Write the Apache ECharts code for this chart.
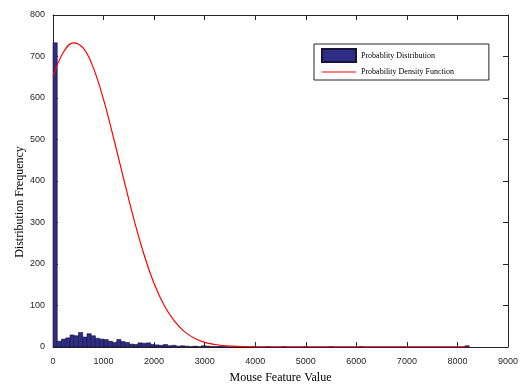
<!DOCTYPE html>
<html>
<head>
<meta charset="utf-8">
<script src="https://cdn.jsdelivr.net/npm/echarts@6/dist/echarts.min.js"></script>
<style>
  html, body { margin: 0; padding: 0; background: #fff; }
  #chart { width: 521px; height: 389px; }
</style>
</head>
<body>
<div id="chart"></div>
<script>
// histogram: bin width and counts
const binWidth = 84;
const binCounts = [
  733, 14, 19, 22, 29, 27, 35, 24, 32, 27,
  21, 19, 18, 14, 11, 18, 13, 11, 7, 6,
  10, 9, 10, 6, 5, 4, 6, 3, 4, 2,
  3, 2, 1, 2, 1, 3, 2, 1, 1, 2,
  1, 0, 1, 0, 1, 0, 0, 1, 0, 0,
  1, 0, 0, 0, 1, 0, 0, 0, 0, 1,
  0, 0, 0, 0, 0, 1, 0, 0, 0, 0,
  0, 0, 1, 0, 0, 0, 0, 0, 0, 0,
  0, 0, 0, 0, 0, 0, 0, 0, 0, 0,
  0, 0, 0, 0, 0, 0, 0, 3
];

// fitted density curve
const pdfX = [0, 200, 400, 600, 800, 1000, 1200, 1400, 1600, 1800, 2000, 2200, 2400, 2600, 2800, 3000, 3200, 3500, 4000, 5000, 6000, 7000, 8200];
const pdfY = [652, 709, 733, 720, 672, 596, 503, 404, 308, 223, 153, 100, 63, 37, 21, 11, 6, 2, 0, 0, 0, 0, 0];

const xTicks = [0, 1000, 2000, 3000, 4000, 5000, 6000, 7000, 8000, 9000];
const yTicks = [0, 100, 200, 300, 400, 500, 600, 700, 800];

const histData = binCounts.map((c, i) => [i * binWidth, (i + 1) * binWidth, c]);
const pdfData = pdfX.map((x, i) => [x, pdfY[i]]);

const axisColor = '#262626';
const tickFont = { fontFamily: 'Liberation Sans', fontSize: 9, color: '#262626' };
const nameFont = { fontFamily: 'Liberation Serif', fontSize: 12, color: '#000' };

const chart = echarts.init(document.getElementById('chart'));

chart.setOption({
  animation: false,
  backgroundColor: '#fff',
  grid: { left: 53, right: 6, top: 15, bottom: 40 },
  legend: {
    orient: 'vertical',
    left: 314,
    top: 44,
    itemWidth: 34,
    itemHeight: 13,
    itemGap: 5,
    padding: [4, 35, 4, 7],
    borderColor: '#262626',
    borderWidth: 1,
    backgroundColor: '#fff',
    textStyle: { fontFamily: 'Liberation Serif', fontSize: 8, color: '#000' },
    data: [
      { name: 'Probablity Distribution', icon: 'rect' },
      { name: 'Probability Density Function', icon: 'path://M0,0 L36,0 L36,1 L0,1 Z' }
    ]
  },
  xAxis: [
    {
      type: 'value',
      min: 0, max: 9000, interval: 1000,
      name: 'Mouse Feature Value',
      nameLocation: 'middle',
      nameGap: 25,
      nameTextStyle: nameFont,
      axisLine: { show: true, onZero: false, lineStyle: { color: axisColor } },
      axisTick: { show: true, inside: true, length: 5, lineStyle: { color: axisColor } },
      axisLabel: Object.assign({ margin: 10, formatter: v => xTicks.includes(v) ? String(v) : '' }, tickFont),
      splitLine: { show: false }
    },
    {
      type: 'value', position: 'top',
      min: 0, max: 9000, interval: 1000,
      axisLine: { show: true, onZero: false, lineStyle: { color: axisColor } },
      axisTick: { show: true, inside: true, length: 5, lineStyle: { color: axisColor } },
      axisLabel: { show: false },
      splitLine: { show: false }
    }
  ],
  yAxis: [
    {
      type: 'value',
      min: 0, max: 800, interval: 100,
      name: 'Distribution Frequency',
      nameLocation: 'middle',
      nameGap: 27,
      nameMoveOverlap: false,
      nameTextStyle: Object.assign({ padding: [0, 42, 0, 0] }, nameFont),
      axisLine: { show: true, onZero: false, lineStyle: { color: axisColor } },
      axisTick: { show: true, inside: true, length: 5, lineStyle: { color: axisColor } },
      axisLabel: Object.assign({ margin: 8, formatter: v => yTicks.includes(v) ? String(v) : '' }, tickFont),
      splitLine: { show: false }
    },
    {
      type: 'value', position: 'right',
      min: 0, max: 800, interval: 100,
      axisLine: { show: true, onZero: false, lineStyle: { color: axisColor } },
      axisTick: { show: true, inside: true, length: 5, lineStyle: { color: axisColor } },
      axisLabel: { show: false },
      splitLine: { show: false }
    }
  ],
  series: [
    {
      name: 'Probablity Distribution',
      type: 'custom',
      xAxisIndex: 0,
      yAxisIndex: 0,
      encode: { x: [0, 1], y: 2 },
      itemStyle: { color: '#2e2c84', borderColor: '#15153a', borderWidth: 0.6 },
      renderItem: function (params, api) {
        const p0 = api.coord([api.value(0), 0]);
        const p1 = api.coord([api.value(1), api.value(2)]);
        return {
          type: 'rect',
          shape: { x: p0[0], y: p1[1], width: p1[0] - p0[0], height: p0[1] - p1[1] },
          style: api.style()
        };
      },
      data: histData
    },
    {
      name: 'Probability Density Function',
      type: 'line',
      xAxisIndex: 0,
      yAxisIndex: 0,
      smooth: 0.4,
      symbol: 'none',
      lineStyle: { color: '#ff0000', width: 1.2 },
      itemStyle: { color: '#ff0000' },
      data: pdfData
    }
  ]
});
</script>
</body>
</html>
